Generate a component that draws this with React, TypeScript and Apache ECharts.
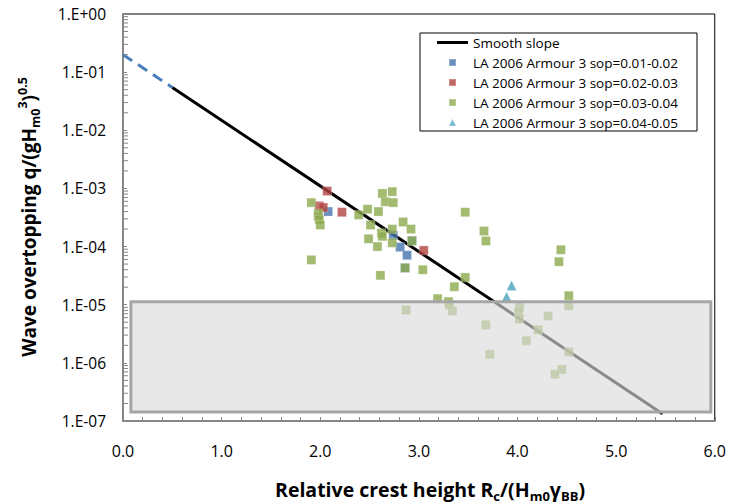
import React, { useEffect, useRef } from "react";
import * as echarts from "echarts";

const FONT = '"Open Sans", "Noto Sans", sans-serif';

const seriesNames = [
  "Smooth slope",
  "LA 2006 Armour 3 sop=0.01-0.02",
  "LA 2006 Armour 3 sop=0.02-0.03",
  "LA 2006 Armour 3 sop=0.03-0.04",
  "LA 2006 Armour 3 sop=0.04-0.05",
];

// Smooth slope prediction line (black) and its extrapolation (blue dashed)
const smoothX = [0.5, 5.47];
const smoothY = [0.0545, 1.33e-7];
const extrapX = [0, 0.5];
const extrapY = [0.2, 0.0545];

// sop = 0.01-0.02
const blueX = [2.08, 2.74, 2.81, 2.88, 2.93, 2.86];
const blueY = [4.0e-4, 1.56e-4, 9.8e-5, 7.1e-5, 1.26e-4, 4.3e-5];

// sop = 0.02-0.03
const redX = [2.07, 1.99, 2.03, 2.22, 3.05];
const redY = [9.0e-4, 5.0e-4, 4.7e-4, 3.9e-4, 8.6e-5];

// sop = 0.03-0.04
const greenX = [
  1.91, 1.98, 1.98, 1.99, 2.0, 1.91, 2.39, 2.48, 2.51, 2.49, 2.58, 2.59, 2.63, 2.73,
  2.66, 2.74, 2.62, 2.63, 2.73, 2.73, 2.84, 2.92, 2.93, 2.86, 3.04, 2.61, 3.47, 3.66,
  3.68, 3.47, 3.36, 3.19, 3.3, 2.87, 3.34, 3.31, 3.68, 3.72, 4.02, 4.01, 4.02, 4.31,
  4.21, 4.09, 4.52, 4.45, 4.38, 4.52, 4.44, 4.42, 4.52,
];
const greenY = [
  5.7e-4, 3.7e-4, 3.3e-4, 2.9e-4, 2.35e-4, 5.9e-5, 3.5e-4, 4.4e-4, 2.35e-4, 1.36e-4,
  1.0e-4, 4.0e-4, 8.2e-4, 8.8e-4, 5.9e-4, 5.7e-4, 1.7e-4, 1.5e-4, 2.0e-4, 1.16e-4,
  2.65e-4, 2.0e-4, 1.26e-4, 4.3e-5, 4.0e-5, 3.2e-5, 3.9e-4, 1.85e-4, 1.25e-4, 2.95e-5,
  2.04e-5, 1.27e-5, 1.13e-5, 8.1e-6, 7.8e-6, 9.9e-6, 4.5e-6, 1.4e-6, 9.0e-6, 7.4e-6,
  5.7e-6, 6.4e-6, 3.7e-6, 2.4e-6, 1.54e-6, 7.7e-7, 6.4e-7, 9.6e-6, 8.8e-5, 5.5e-5,
  1.43e-5,
];

// sop = 0.04-0.05
const cyanX = [3.94, 3.89];
const cyanY = [2.15e-5, 1.37e-5];

// shaded low-overtopping zone
const zoneX = [0.08, 5.96];
const zoneY = [1.43e-7, 1.13e-5];

const xTickLabels = ["0.0", "1.0", "2.0", "3.0", "4.0", "5.0", "6.0"];
const yTickLabels = ["1.E-07", "1.E-06", "1.E-05", "1.E-04", "1.E-03", "1.E-02", "1.E-01", "1.E+00"];
const yDecades = [1e-7, 1e-6, 1e-5, 1e-4, 1e-3, 1e-2, 1e-1];
const yMinorMultipliers = [2, 3, 4, 5, 6, 7, 8, 9];

const zip = (xs: number[], ys: number[]) => xs.map((x, i) => [x, ys[i]]);

const GREY = "#868686";
const SQUARE = "path://M0,0H10V10H0Z";

export default function App() {
  const ref = useRef<HTMLDivElement>(null);
  useEffect(() => {
    if (!ref.current) return;
    const chart = echarts.init(ref.current, null, { renderer: "svg" });
    const yMinorTicks: number[] = [];
    yDecades.forEach((d) => yMinorMultipliers.forEach((m) => yMinorTicks.push(d * m)));

    const scatterBase = (name: string, xs: number[], ys: number[], color: string, symbol: string, size: number) => ({
      name,
      type: "scatter",
      data: zip(xs, ys),
      symbol,
      symbolSize: size,
      itemStyle: { color, borderColor: "rgba(255,255,255,0.3)", borderWidth: 1 },
      z: 3,
    });

    const bold = { fontFamily: FONT, fontWeight: "bold", fill: "#000" };

    const option: any = {
      animation: false,
      backgroundColor: "#fff",
      grid: {
        left: 123,
        top: 14,
        width: 592,
        height: 407,
        show: true,
        borderColor: "#000",
        borderWidth: 1,
        backgroundColor: "transparent",
      },
      xAxis: {
        type: "value",
        min: 0,
        max: 6,
        interval: 1,
        axisLine: { lineStyle: { color: GREY, width: 2 } },
        axisTick: { show: true, inside: true, length: 4, lineStyle: { color: GREY } },
        minorTick: { show: true, splitNumber: 5, length: 4, lineStyle: { color: GREY } },
        splitLine: { show: false },
        axisLabel: {
          formatter: (v: number) => xTickLabels[Math.round(v)],
          fontFamily: FONT,
          fontSize: 16,
          color: "#000",
          margin: 22,
        },
      },
      yAxis: {
        type: "log",
        logBase: 10,
        min: 1e-7,
        max: 1,
        interval: 1,
        splitNumber: 7,
        axisLine: { lineStyle: { color: GREY, width: 2 } },
        axisTick: { show: true, inside: true, length: 4, lineStyle: { color: GREY } },
        splitLine: { show: false },
        axisLabel: {
          formatter: (v: number) => yTickLabels[Math.round(Math.log10(v)) + 7],
          fontFamily: FONT,
          fontSize: 15.5,
          color: "#000",
          margin: 17,
        },
      },
      legend: {
        orient: "vertical",
        left: 437,
        top: 35,
        itemWidth: 31,
        itemHeight: 7,
        itemGap: 5,
        padding: 0,
        textStyle: { fontFamily: FONT, fontSize: 13.5, color: "#000", lineHeight: 15 },
        data: [
          { name: seriesNames[0], icon: "path://M0,0H31V3H0Z" },
          { name: seriesNames[1], icon: SQUARE },
          { name: seriesNames[2], icon: SQUARE },
          { name: seriesNames[3], icon: SQUARE },
          { name: seriesNames[4], icon: "path://M5,0L10,10H0Z" },
        ],
      },
      graphic: [
        {
          type: "rect",
          shape: { x: 420, y: 33, width: 277, height: 98 },
          style: { fill: "#fff", stroke: "#000", lineWidth: 1 },
          z: 0,
          silent: true,
        },
        {
          type: "text",
          x: 430,
          y: 489,
          silent: true,
          style: {
            text: "{b|Relative crest height R}{s|c}{b|/(H}{s|m0}{b|γ}{s|BB}{b|)}",
            align: "center",
            verticalAlign: "middle",
            rich: {
              b: { ...bold, fontSize: 19.5, lineHeight: 26 },
              s: { ...bold, fontSize: 13, lineHeight: 16, verticalAlign: "bottom" },
            },
          },
        },
        {
          type: "text",
          x: 29,
          y: 217,
          rotation: Math.PI / 2,
          silent: true,
          style: {
            text: "{b|Wave overtopping q/(gH}{s|m0}{p3|3}{b|)}{p|0.5}",
            align: "center",
            verticalAlign: "middle",
            rich: {
              b: { ...bold, fontSize: 19, lineHeight: 26 },
              s: { ...bold, fontSize: 12.5, lineHeight: 18, verticalAlign: "bottom" },
              p3: { ...bold, fontSize: 12.5, lineHeight: 20, verticalAlign: "top" },
              p: { ...bold, fontSize: 12.5, lineHeight: 4, verticalAlign: "top" },
            },
          },
        },
      ],
      series: [
        {
          name: seriesNames[0],
          type: "line",
          data: zip(smoothX, smoothY),
          symbol: "none",
          lineStyle: { color: "#000", width: 3 },
          itemStyle: { color: "#000" },
          z: 2,
        },
        {
          name: "extrapolation",
          type: "line",
          data: zip(extrapX, extrapY),
          symbol: "none",
          lineStyle: { color: "#4a7ebb", width: 3, type: [11, 7] },
          itemStyle: { color: "#4a7ebb" },
          z: 2,
        },
        scatterBase(seriesNames[1], blueX, blueY, "#4673af", "rect", 9),
        scatterBase(seriesNames[2], redX, redY, "#b24441", "rect", 9),
        scatterBase(seriesNames[3], greenX, greenY, "#8caa4c", "rect", 9),
        scatterBase(seriesNames[4], cyanX, cyanY, "#45a2bf", "triangle", 10),
        {
          name: "zone",
          type: "line",
          data: [],
          symbol: "none",
          markArea: {
            silent: true,
            z: 10,
            itemStyle: { color: "rgba(219,219,219,0.63)", borderColor: "#a6a6a6", borderWidth: 3 },
            data: [[{ coord: [zoneX[0], zoneY[1]] }, { coord: [zoneX[1], zoneY[0]] }]],
          },
        },
        {
          name: "yMinorTicks",
          type: "custom",
          silent: true,
          z: 4,
          data: yMinorTicks.map((v) => [0, v]),
          renderItem: (params: any, api: any) => {
            const p = api.coord([0, api.value(1)]);
            return {
              type: "line",
              shape: { x1: p[0] + 1, y1: p[1], x2: p[0] + 5, y2: p[1] },
              style: { stroke: GREY, lineWidth: 1 },
            };
          },
        },
      ],
    };
    chart.setOption(option);
    return () => chart.dispose();
  }, []);
  return <div ref={ref} style={{ position: "absolute", left: 0, top: 0, width: 729, height: 504 }} />;
}
